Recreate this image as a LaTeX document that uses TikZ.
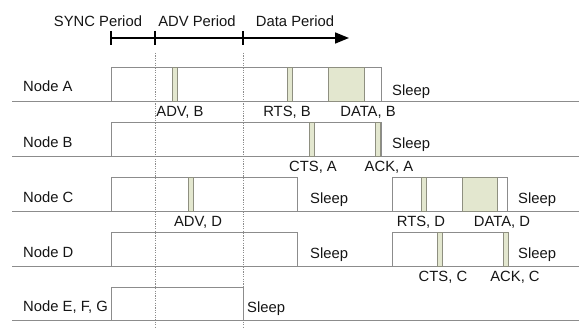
\documentclass[tikz,border=0pt]{standalone}
\usepackage{fontspec}
\setmainfont{Liberation Sans}
\usetikzlibrary{arrows.meta}
\definecolor{rule}{HTML}{8C8C8C}
\definecolor{slot}{HTML}{E3E7CF}
\definecolor{slotedge}{HTML}{8E8F80}
\definecolor{ink}{HTML}{151515}
\tikzset{
  every node/.style={font=\fontsize{14.8}{16}\selectfont, text=ink, inner sep=0pt},
  rowline/.style={draw=rule, line width=0.9pt},
  awake/.style={draw=rule, line width=0.9pt},
  pkt/.style={draw=slotedge, fill=slot, line width=0.9pt},
  phase/.style={draw=rule, line width=0.7pt, dash pattern=on 1.2pt off 1.2pt},
  tick/.style={draw=black, line width=1.4pt},
  lbl/.style={anchor=center},
  nodename/.style={anchor=west},
}
\begin{document}
\begin{tikzpicture}[x=1pt, y=-1pt]
\useasboundingbox (0,0) rectangle (579,328);

% phase markers on the time axis
\node[lbl] (sync) at (98,21) {SYNC Period};
\node[lbl] (advp) at (197,21) {ADV Period};
\node[lbl] (datap) at (295,21) {Data Period};
\coordinate (t0) at (111,38);
\coordinate (t1) at (155,38);
\coordinate (t2) at (243,38);
\coordinate (tend) at (349,38);
\draw[line width=1.6pt, -{Triangle[length=14pt,width=11pt]}] (t0) -- (tend);
\foreach \x in {111,155,243} \draw[tick] (\x,31) -- (\x,45);

% phase boundaries
\draw[phase] (155,53) -- (155,328);
\draw[phase] (243,53) -- (243,328);

% row baselines
\foreach \y in {101,156,211,266,320} \draw[rowline] (12,\y) -- (579,\y);

% Node A
\node[nodename] (na) at (23,86) {Node A};
\draw[awake] (111,101) -- (111,67) -- (381,67) -- (381,101);
\draw[pkt] (172,67) rectangle (177,101);
\draw[pkt] (287,67) rectangle (292,101);
\draw[pkt] (328,67) rectangle (364,101);
\node[lbl] (advb) at (180,112) {ADV, B};
\node[lbl] (rtsb) at (287,112) {RTS, B};
\node[lbl] (datab) at (368,112) {DATA, B};
\node[nodename] (sla) at (392,92) {Sleep};

% Node B
\node[nodename] (nb) at (23,142) {Node B};
\draw[awake] (111,156) -- (111,122) -- (381,122) -- (381,156);
\draw[pkt] (309,122) rectangle (314,156);
\draw[pkt] (375,122) rectangle (380,156);
\node[lbl] (ctsa) at (313,167) {CTS, A};
\node[lbl] (acka) at (389,167) {ACK, A};
\node[nodename] (slb) at (392,145) {Sleep};

% Node C
\node[nodename] (nc) at (23,197) {Node C};
\draw[awake] (111,211) -- (111,177) -- (297,177) -- (297,211);
\draw[pkt] (188,177) rectangle (193,211);
\node[nodename] (slc1) at (310,200) {Sleep};
\draw[awake] (392,211) -- (392,177) -- (507,177) -- (507,211);
\draw[pkt] (421,177) rectangle (426,211);
\draw[pkt] (462,177) rectangle (497,211);
\node[nodename] (slc2) at (518,200) {Sleep};
\node[lbl] (advd) at (198,222) {ADV, D};
\node[lbl] (rtsd) at (421,222) {RTS, D};
\node[lbl] (datad) at (502,222) {DATA, D};

% Node D
\node[nodename] (nd) at (23,252) {Node D};
\draw[awake] (111,266) -- (111,232) -- (297,232) -- (297,266);
\node[nodename] (sld1) at (310,255) {Sleep};
\draw[awake] (392,266) -- (392,232) -- (508,232) -- (508,266);
\draw[pkt] (437,232) rectangle (442,266);
\draw[pkt] (503,232) rectangle (508,266);
\node[nodename] (sld2) at (518,255) {Sleep};
\node[lbl] (ctsc) at (443,277) {CTS, C};
\node[lbl] (ackc) at (515,277) {ACK, C};

% Nodes E, F, G
\node[nodename] (ne) at (23,307) {Node E, F, G};
\draw[awake] (111,320) -- (111,287) -- (243,287) -- (243,320);
\node[nodename] (sle) at (247,309) {Sleep};
\end{tikzpicture}
\end{document}
